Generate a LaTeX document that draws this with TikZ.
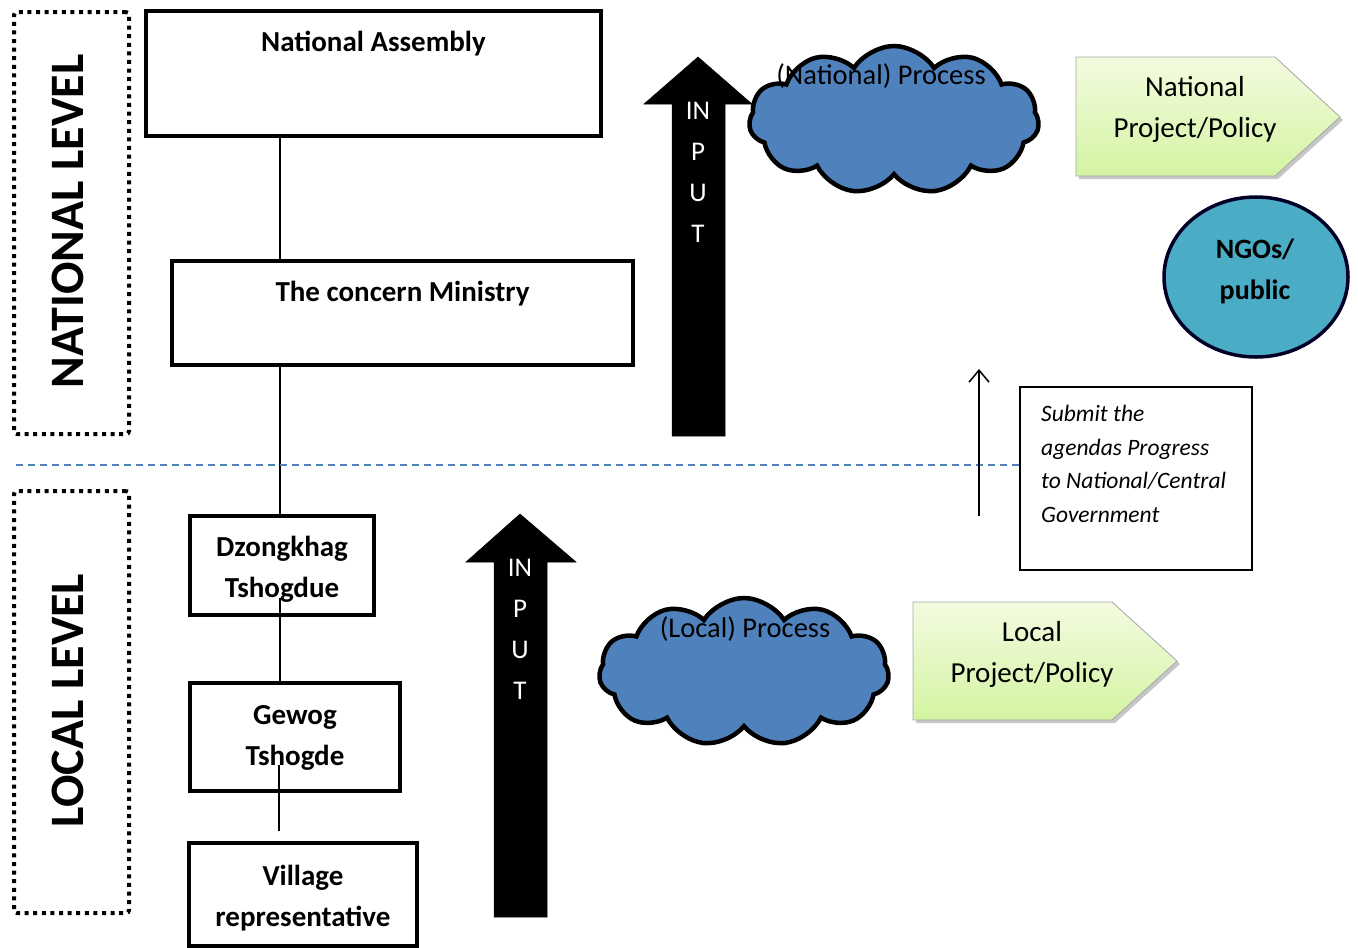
\documentclass[tikz,border=0pt]{standalone}
\usepackage{fontspec}
\setmainfont{Carlito}
\usetikzlibrary{shapes.symbols,shapes.geometric,arrows.meta,calc}
\definecolor{cloudblue}{HTML}{4F81BD}
\definecolor{ngoblue}{HTML}{4BACC6}
\definecolor{ptop}{HTML}{F3FBE0}
\definecolor{pbot}{HTML}{D3F4A2}
\begin{document}
\begin{tikzpicture}[x=1pt,y=-1pt,
  lvlbox/.style={draw, line width=4pt, dash pattern=on 4pt off 4.6pt, rounded corners=3pt, minimum width=115pt, minimum height=422pt},
  lvltext/.style={rotate=90, font=\fontsize{48}{52}\selectfont\bfseries, inner sep=0pt},
  orgbox/.style={draw, line width=3.5pt, align=center, font=\fontsize{29}{41}\selectfont\bfseries, inner sep=0pt},
  orgtext/.style={font=\fontsize{29}{41}\selectfont\bfseries, inner sep=0pt},
  conn/.style={line width=1.3pt},
  bigarrow/.style={fill=black, draw=black, line width=0.5pt},
  arrowtext/.style={text=white, align=center, font=\fontsize{27}{41}\selectfont, inner sep=0pt, anchor=north},
  cloudnode/.style={cloud, cloud puffs=11, cloud puff arc=115, cloud ignores aspect, fill=cloudblue, draw=black, line width=4.5pt},
  cloudtext/.style={font=\fontsize{28.5}{33}\selectfont, inner sep=0pt},
  pent/.style={shade, top color=ptop, bottom color=pbot, draw=gray!70, line width=0.8pt},
  pentshadow/.style={fill=gray!45},
  penttext/.style={align=center, font=\fontsize{29}{41}\selectfont, inner sep=0pt},
  ngo/.style={ellipse, fill=ngoblue, draw=black!85!blue, line width=3.5pt, minimum width=184pt, minimum height=160pt, align=center, font=\fontsize{28}{41}\selectfont\bfseries, inner sep=0pt},
  subbox/.style={draw, line width=1.2pt, minimum width=232pt, minimum height=183pt},
  subtext/.style={align=left, font=\fontsize{23.5}{33.7}\selectfont\itshape, inner sep=0pt, anchor=north west},
  divider/.style={draw=cloudblue, line width=1.3pt, dash pattern=on 7pt off 5pt}
]
\useasboundingbox (0,0) rectangle (1358,948);

% level boxes
\node[lvlbox] (natlvl) at (71.5,223) {};
\node[lvltext] (natlvlt) at (68,221.5) {NATIONAL LEVEL};
\node[lvlbox] (loclvl) at (71.5,702) {};
\node[lvltext] (loclvlt) at (68,700.5) {LOCAL LEVEL};

% organisation boxes
\node[orgbox, minimum width=455pt, minimum height=125pt] (na) at (373.5,73.5) {};
\node[orgtext] (nat) at (373.5,44) {National Assembly};
\node[orgbox, minimum width=461pt, minimum height=104pt] (min) at (402.5,313) {};
\node[orgtext] (mint) at (402.5,294) {The concern Ministry};
\node[orgbox, minimum width=184pt, minimum height=99pt] (dz) at (282,565.5) {};
\node[orgtext, align=center] (dzt) at (282,569.5) {Dzongkhag\\Tshogdue};
\node[orgbox, minimum width=210pt, minimum height=108pt] (gw) at (295,737) {};
\node[orgtext, align=center] (gwt) at (295,737.5) {Gewog\\Tshogde};
\node[orgbox, minimum width=228pt, minimum height=103pt] (vil) at (303,894.5) {};
\node[orgtext, align=center] (vilt) at (303,898) {Village\\representative};

\coordinate (spine) at (280,0);
\draw[conn] (na.south -| spine) -- (min.north -| spine);
\draw[conn] (min.south -| spine) -- (dz.north -| spine);
\draw[conn] ([yshift=-32pt]dz.center -| spine) -- (gw.north -| spine);
\coordinate (gwend) at ([yshift=10pt]vil.north -| 279,0);
\draw[conn] ([yshift=-28pt]gw.center -| gwend) -- (gwend);

% divider
\node[subbox] (sub) at (1136,478.5) {};
\node[subtext] (subt) at (1041,405) {Submit the\\agendas Progress\\to National/Central\\Government};
\coordinate (dl) at (16,465);
\draw[divider] (dl) -- (dl -| sub.west);

% thin arrow
\coordinate (ta) at (979,516);
\coordinate (tb) at (979,369);
\draw[line width=1.5pt, -{Straight Barb[length=12pt,width=20pt,line width=1.5pt]}] (ta) -- (tb);

% big arrows
\draw[bigarrow] (672,436) -- (672,104) -- (644,104) -- (698,57) -- (752,104) -- (725,104) -- (725,436) -- cycle;
\node[arrowtext] (nin) at (698,102) {IN\\P\\U\\T};
\draw[bigarrow] (494,917) -- (494,562) -- (466,562) -- (520,514) -- (576,562) -- (547,562) -- (547,917) -- cycle;
\node[arrowtext] (lin) at (520,559) {IN\\P\\U\\T};

% clouds
\node[cloudnode, minimum width=290pt, minimum height=148pt] (nc) at (894,120) {};
\node[cloudtext] (nct) at (881,76) {(National) Process};
\node[cloudnode, minimum width=290pt, minimum height=148pt] (lc) at (744,672) {};
\node[cloudtext] (lct) at (745,629) {(Local) Process};

% pentagons
\fill[pentshadow] (1079,60) -- (1278,60) -- (1343,120) -- (1278,179) -- (1079,179) -- cycle;
\path[pent] (1076,57) -- (1275,57) -- (1340,117) -- (1275,176) -- (1076,176) -- cycle;
\node[penttext] (np) at (1195,109) {National\\Project/Policy};
\fill[pentshadow] (916,605) -- (1115,605) -- (1180,664) -- (1115,723) -- (916,723) -- cycle;
\path[pent] (913,602) -- (1112,602) -- (1177,661) -- (1112,720) -- (913,720) -- cycle;
\node[penttext] (lp) at (1032,654) {Local\\Project/Policy};

% NGOs
\node[ngo] (ngo) at (1256,277) {};
\node[orgtext, align=center, font=\fontsize{28}{41}\selectfont\bfseries] (ngot) at (1255,271) {NGOs/\\public};
\end{tikzpicture}
\end{document}
